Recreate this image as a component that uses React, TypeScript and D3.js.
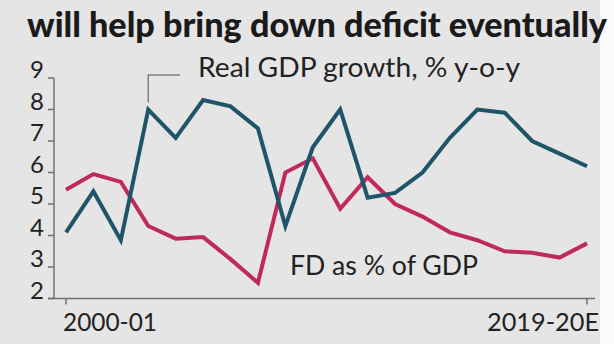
import React from "react";
import * as d3 from "d3";

const categories = [
  "2000-01","2001-02","2002-03","2003-04","2004-05","2005-06","2006-07","2007-08","2008-09","2009-10",
  "2010-11","2011-12","2012-13","2013-14","2014-15","2015-16","2016-17","2017-18","2018-19","2019-20E",
];
const gdpGrowth = [4.1, 5.4, 3.85, 8.0, 7.1, 8.3, 8.1, 7.4, 4.3, 6.8, 8.0, 5.2, 5.35, 6.0, 7.1, 8.0, 7.9, 7.0, 6.6, 6.2];
const fdPct = [5.45, 5.95, 5.7, 4.3, 3.9, 3.95, 3.25, 2.5, 6.0, 6.45, 4.85, 5.85, 5.0, 4.6, 4.1, 3.85, 3.5, 3.45, 3.3, 3.75];
const yTicks = [2, 3, 4, 5, 6, 7, 8, 9];
const xTickLabels = ["2000-01", "2019-20E"];
const title = "will help bring down deficit eventually";
const gdpLabel = "Real GDP growth, % y-o-y";
const fdLabel = "FD as % of GDP";

const W = 614;
const H = 344;
const FONT = "Lato, 'Noto Sans', sans-serif";

export default function App() {
  const x = d3.scalePoint<string>().domain(categories).range([66, 587]);
  const y = d3.scaleLinear().domain([2, 9]).range([298.5, 78]);
  const line = d3
    .line<number>()
    .x((_, i) => x(categories[i]) as number)
    .y((d) => y(d));
  const axisX0 = 54;
  const baseY = y(2);
  const firstX = x(categories[0]) as number;
  const lastX = x(categories[categories.length - 1]) as number;
  const gdpPt = { x: x(categories[3]) as number, y: y(gdpGrowth[3]) };

  return (
    <svg
      width={W}
      height={H}
      style={{ position: "absolute", left: 0, top: 0, display: "block" }}
    >
      <rect x={0} y={0} width={W} height={H} fill="#fafafa" />
      <rect x={0} y={0} width={600} height={H} fill="#e5e5e5" />
      <text
        x={27}
        y={37}
        fontFamily={FONT}
        fontWeight={900}
        fontSize={34}
        fill="#1a1a1a"
        textLength={580}
        lengthAdjust="spacingAndGlyphs"
      >
        {title}
      </text>

      {/* y axis */}
      <line x1={axisX0} x2={axisX0} y1={y(9)} y2={baseY} stroke="#707070" strokeWidth={1.5} />
      {yTicks.map((t) => (
        <g key={t}>
          <line x1={axisX0 - 6} x2={axisX0} y1={y(t)} y2={y(t)} stroke="#707070" strokeWidth={1.5} />
          <text
            x={axisX0 - 10}
            y={y(t)}
            textAnchor="end"
            fontFamily={FONT}
            fontSize={24}
            fill="#222"
          >
            {t}
          </text>
        </g>
      ))}
      {/* x axis */}
      <line x1={axisX0 - 6} x2={595} y1={baseY} y2={baseY} stroke="#707070" strokeWidth={1.5} />
      {[firstX, lastX].map((tx, i) => (
        <line key={i} x1={tx} x2={tx} y1={baseY} y2={baseY + 6} stroke="#707070" strokeWidth={1.5} />
      ))}
      <text x={firstX - 3} y={331} fontFamily={FONT} fontSize={25} fill="#222" textLength={94} lengthAdjust="spacingAndGlyphs">
        {xTickLabels[0]}
      </text>
      <text x={487} y={331} fontFamily={FONT} fontSize={25} fill="#222" textLength={112} lengthAdjust="spacingAndGlyphs">
        {xTickLabels[1]}
      </text>

      {/* lines */}
      <path d={line(fdPct) || ""} fill="none" stroke="#c02a5a" strokeWidth={4} strokeLinejoin="miter" />
      <path d={line(gdpGrowth) || ""} fill="none" stroke="#1f5569" strokeWidth={4} strokeLinejoin="miter" />

      {/* GDP annotation */}
      <polyline
        points={`${gdpPt.x},${gdpPt.y - 7} ${gdpPt.x},75 180,75`}
        fill="none"
        stroke="#808080"
        strokeWidth={1.5}
      />
      <text x={198} y={77} fontFamily={FONT} fontSize={27} fill="#222" textLength={322} lengthAdjust="spacingAndGlyphs">
        {gdpLabel}
      </text>
      <text x={290} y={275} fontFamily={FONT} fontSize={27} fill="#222" textLength={188} lengthAdjust="spacingAndGlyphs">
        {fdLabel}
      </text>
    </svg>
  );
}
